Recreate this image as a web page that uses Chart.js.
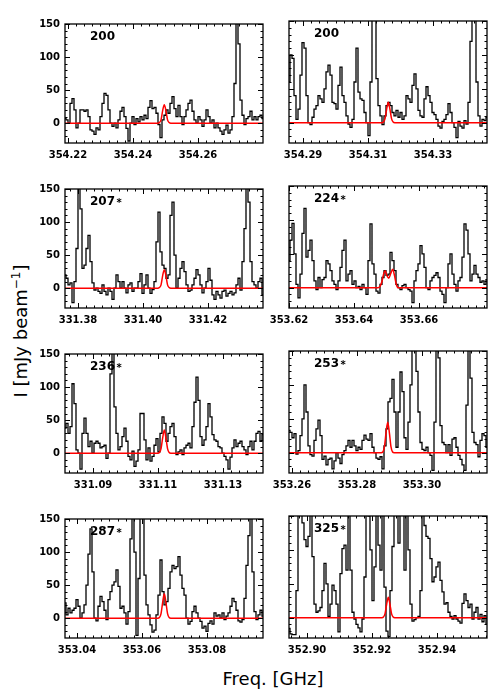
<!DOCTYPE html>
<html>
<head>
<meta charset="utf-8">
<script src="https://cdn.jsdelivr.net/npm/chart.js@4.4.1/dist/chart.umd.min.js"></script>
<style>
  body { margin: 0; background: #fff; }
  #fig { position: relative; width: 500px; height: 700px; overflow: hidden; font-family: "DejaVu Sans", sans-serif; color: #000; }
  #fig canvas { position: absolute; }
  .xtitle { position: absolute; left: 0; width: 546px; top: 668px; text-align: center; font-size: 18px; line-height: 22px; }
  .ytitle { position: absolute; left: 20px; top: 331px; transform: translate(-50%, -50%) rotate(-90deg); font-size: 18px; white-space: nowrap; }
  .ytitle sup { font-size: 12px; }
</style>
</head>
<body>
<div id="fig">
  <div class="xtitle">Freq. [GHz]</div>
  <div class="ytitle">I [mJy beam<sup>−1</sup>]</div>
</div>
<script>
// panel labels, left->right, top->bottom
const labels = ['200', '200', '207*', '224*', '236*', '253*', '287*', '325*'];

// frequency range of each panel (GHz)
const freqStart = [354.21908, 354.28569, 331.37600, 353.62000, 331.08138, 353.25908, 353.03631, 352.89446];
const freqEnd   = [354.28000, 354.34661, 331.43692, 353.68092, 331.14230, 353.32000, 353.09723, 352.95538];

// labelled x ticks
const xTicks = [
  [354.22, 354.24, 354.26],
  [354.29, 354.31, 354.33],
  [331.38, 331.40, 331.42],
  [353.62, 353.64, 353.66],
  [331.09, 331.11, 331.13],
  [353.26, 353.28, 353.30],
  [353.04, 353.06, 353.08],
  [352.90, 352.92, 352.94]
];
const yTicks = [0, 50, 100, 150];

// observed spectra, mJy/beam (100 channels each, edge to edge)
const spec1 = [7, 5, 0, 30, 37, 20, -7, 0, 20, 20,
  18, 20, 10, -10, -12, -17, -7, -10, 10, 30,
  45, 42, 20, 0, -5, 0, -7, 5, 18, 24,
  10, -8, -27, 0, 10, -2, 7, 2, 10, 5,
  12, 7, 24, 34, 22, 24, 15, -2, -22, 5,
  12, 20, 15, 30, 40, 22, 10, 27, 10, -2,
  10, 20, 30, 35, 18, 5, 0, 10, 5, -5,
  5, 20, 10, 0, 5, -7, 0, -7, -12, -17,
  -10, -3, -15, -10, 10, 60, 170, 120, 35, 12,
  -2, 7, 10, 18, 5, 10, 5, 10, 12, 7];
const spec2 = [60, 100, 95, 40, 5, 20, 70, 118, 110, 40,
  0, -3, 8, 20, 25, 40, 35, 30, 50, 75,
  85, 70, 30, 28, 20, 55, 82, 40, 30, 10,
  -2, -7, 5, 60, 110, 45, 35, 33, 15, 0,
  -19, 60, 170, 170, 65, 25, 10, -3, 10, 25,
  30, 25, 15, 10, 18, 8, 15, 5, 10, 40,
  35, 30, 55, 72, 50, 18, 10, 8, 35, 53,
  40, 30, 15, 12, 5, -5, -8, 2, 5, 12,
  28, 15, 0, -7, -22, 2, -5, -8, 3, -2,
  30, 120, 170, 170, 60, 10, -5, 5, 3, 8];
const spec3 = [20, 15, 5, 8, -22, 10, 60, 170, 120, 30,
  35, 60, 80, 40, 8, -3, 0, -5, -8, 5,
  -5, -10, 0, -5, -17, 0, 20, 10, 0, 10,
  0, -7, 5, 8, -5, 0, 0, 10, 22, -8,
  5, 20, 0, -8, -2, 10, 70, 115, 55, 35,
  30, 15, 20, 110, 130, 50, 0, 15, 30, 40,
  25, 5, -5, -3, 5, 15, 28, 20, 5, -7,
  0, 10, 30, 12, -10, -17, -5, -10, -15, -5,
  -3, -12, -8, -5, -10, -7, 5, 15, -3, 40,
  90, 170, 130, 40, 10, 5, 0, 10, 15, -10];
const spec4 = [40, 70, 95, 50, 5, -15, 20, 80, 117, 45,
  55, 70, 40, 10, -3, 15, 0, 12, 15, 40,
  35, 25, 10, 5, -3, 10, 30, 55, 70, 10,
  20, 25, 5, 10, 0, 2, -3, 5, 0, -10,
  40, 94, 35, 20, -5, -8, 5, 15, 25, 18,
  20, 52, 40, 25, 5, 0, -3, 3, 5, 0,
  -3, -5, -22, 10, 25, 35, 62, 50, 30, 0,
  -3, 10, 15, 18, 22, 15, -5, -10, -22, 0,
  35, 50, 20, 5, -5, 10, 15, 45, 94, 85,
  50, 10, 20, 33, 20, 15, 8, 10, 5, 12];
const spec5 = [38, 45, 30, 40, 105, 75, 5, 0, -24, 30,
  53, 30, 10, 18, 0, 15, 18, 15, 8, 10,
  12, -8, 0, 120, 170, 70, 30, 5, 10, 25,
  38, 18, -5, -10, 3, -20, -12, 5, 60, 60,
  20, -10, 8, -12, -5, 12, 22, 2, 30, 55,
  45, 18, 30, 40, 45, 25, -2, 2, 5, -2,
  8, 12, 15, 8, 40, 77, 115, 80, 25, 12,
  20, 40, 75, 55, 28, 20, 18, 10, 8, 0,
  -5, -10, -24, -6, 8, 20, 10, 15, 18, 10,
  5, -2, 10, 18, 5, 18, 30, 33, 18, 28];
const spec6 = [33, 30, 22, 28, -2, 3, 25, 50, 100, 60,
  10, -3, -5, 18, 35, 48, 25, -10, -5, -18,
  -10, -8, -24, -12, 0, -8, -16, -3, 3, 10,
  18, 8, 18, 10, 3, 8, 5, 18, 26, 20,
  18, 28, 8, 0, -8, -10, -6, -24, 10, 35,
  75, 80, 108, 60, 8, 60, 119, 90, 22, 5,
  45, 100, 170, 170, 120, 60, 15, 5, 3, 8,
  0, -4, -26, 45, 170, 140, 40, 15, 12, 0,
  12, -4, 20, 22, 8, -4, -10, -18, -26, 70,
  170, 110, 30, 15, 12, -6, 18, 28, 25, 8];
const spec7 = [23, 5, 15, 8, 12, 15, 28, 18, 0, 8,
  20, 50, 97, 135, 70, 0, -4, 18, 33, 25,
  12, -2, 28, 40, 50, 55, 73, 48, 15, 18,
  8, -9, 10, 120, 170, 100, -26, 60, 170, 170,
  65, 20, 5, -10, -21, -18, 5, 35, 88, 40,
  20, 25, 45, 70, 80, 75, 78, 93, 65, 45,
  35, 0, -9, -5, 10, 18, 8, 0, -5, -15,
  -12, -20, -8, -4, -9, 8, 3, 5, 0, 8,
  -2, 3, 8, 18, 30, 25, 12, -4, -6, -2,
  30, 80, 125, 170, 70, 10, -2, 5, 12, 3];
const spec8 = [-16, -24, -25, -25, 40, 170, 170, 140, 115, 105,
  120, 170, 90, 20, 8, 10, 15, 40, 80, 50,
  2, 20, 48, 40, 20, -21, 65, 102, 107, 70,
  170, 70, 8, -2, -10, -15, -21, -2, 60, 170,
  150, 100, 25, 75, 170, 107, 70, 170, 45, -20,
  -28, 40, 105, 160, 170, 110, 170, 170, 70, 170,
  100, 20, -5, -3, 0, 2, 40, 170, 136, 120,
  117, 87, 53, 60, 75, 82, 55, 38, 20, 22,
  8, 2, -2, 3, -2, -5, -8, 21, 35, 25,
  15, 20, -2, 8, 15, -2, 5, -6, 3, -10];

// model line (red): frequencies and intensities
const red1F = [354.21908, 354.24763, 354.24813, 354.24863, 354.24913, 354.24963, 354.25013, 354.25063, 354.25113, 354.25163, 354.28000];
const red1V = [0, 0, 1, 5, 19, 28, 19, 5, 1, 0, 0];
const red2F = [354.28569, 354.31424, 354.31474, 354.31524, 354.31574, 354.31624, 354.31674, 354.31724, 354.31774, 354.31824, 354.34661];
const red2V = [0, 0, 1, 6, 20, 30, 20, 6, 1, 0, 0];
const red3F = [331.37600, 331.40455, 331.40505, 331.40555, 331.40605, 331.40655, 331.40705, 331.40755, 331.40805, 331.40855, 331.43692];
const red3V = [0, 0, 1, 5, 19, 28, 19, 5, 1, 0, 0];
const red4F = [353.62000, 353.64740, 353.64800, 353.64860, 353.64910, 353.64960, 353.65010, 353.65070, 353.65130, 353.65190, 353.65250, 353.65300, 353.65360, 353.68092];
const red4V = [0, 0, 2, 9, 20, 25, 18, 14, 21, 27, 17, 5, 0, 0];
const red5F = [331.08138, 331.10993, 331.11043, 331.11093, 331.11143, 331.11193, 331.11243, 331.11293, 331.11343, 331.11393, 331.14230];
const red5V = [0, 0, 1, 7, 23, 35, 23, 7, 1, 0, 0];
const red6F = [353.25908, 353.28745, 353.28795, 353.28845, 353.28895, 353.28945, 353.28995, 353.29045, 353.29095, 353.29145, 353.32000];
const red6V = [0, 0, 1, 9, 30, 45, 30, 9, 1, 0, 0];
const red7F = [353.03631, 353.06486, 353.06536, 353.06586, 353.06636, 353.06686, 353.06736, 353.06786, 353.06836, 353.06886, 353.09723];
const red7V = [0, 0, 1, 7, 24, 37, 24, 7, 1, 0, 0];
const red8F = [352.89446, 352.92301, 352.92351, 352.92401, 352.92451, 352.92501, 352.92551, 352.92601, 352.92651, 352.92701, 352.95538];
const red8V = [0, 0, 1, 6, 20, 30, 20, 6, 1, 0, 0];

const spectra = [spec1, spec2, spec3, spec4, spec5, spec6, spec7, spec8];
const redF = [red1F, red2F, red3F, red4F, red5F, red6F, red7F, red8F];
const redV = [red1V, red2V, red3V, red4V, red5V, red6V, red7V, red8V];

// layout
const colLeft = [65, 289];
const rowTop = [21, 186, 351, 516];
const boxW = 198, boxH = 122;
const padL = 45, padT = 8, padR = 8, padB = 25;

// tick list: labelled majors plus minor ticks every `step`
function makeTicks(lo, hi, majors, step) {
  const out = [];
  let k = Math.ceil((lo - majors[0]) / step - 1e-6);
  let v = majors[0] + k * step;
  while (v <= hi + 1e-9) {
    const m = majors.find(mm => Math.abs(mm - v) < step / 10);
    out.push({ value: m !== undefined ? m : v, major: m !== undefined });
    k++;
    v = majors[0] + k * step;
  }
  return out;
}

// box, inward ticks on all sides, panel number
const panelFrame = {
  id: 'panelFrame',
  afterDatasetsDraw(chart, args, opts) {
    const { ctx, chartArea: a, scales: { x, y } } = chart;
    ctx.save();
    ctx.strokeStyle = '#000';
    ctx.lineWidth = 1;
    ctx.beginPath();
    x.ticks.forEach(t => {
      const px = Math.round(x.getPixelForValue(t.value)) + 0.5;
      if (px < a.left || px > a.right) return;
      const len = t.major ? 5 : 2.5;
      ctx.moveTo(px, a.bottom); ctx.lineTo(px, a.bottom - len);
      ctx.moveTo(px, a.top); ctx.lineTo(px, a.top + len);
    });
    y.ticks.forEach(t => {
      const py = Math.round(y.getPixelForValue(t.value)) + 0.5;
      if (py < a.top || py > a.bottom) return;
      const len = t.major ? 5 : 2.5;
      ctx.moveTo(a.left, py); ctx.lineTo(a.left + len, py);
      ctx.moveTo(a.right, py); ctx.lineTo(a.right - len, py);
    });
    ctx.stroke();
    ctx.lineWidth = 1.3;
    ctx.strokeRect(a.left, a.top, a.right - a.left, a.bottom - a.top);

    const txt = opts.label || '';
    const num = txt.replace('*', '');
    ctx.fillStyle = '#000';
    ctx.textBaseline = 'alphabetic';
    ctx.textAlign = 'left';
    ctx.font = 'bold 12px "DejaVu Sans"';
    const tx = a.left + 25, ty = a.top + 15.5;
    ctx.fillText(num, tx, ty);
    if (txt.endsWith('*')) {
      const w = ctx.measureText(num).width;
      ctx.font = 'bold 10px "DejaVu Sans"';
      ctx.fillText('*', tx + w + 1.5, ty + 1.5);
    }
    ctx.restore();
  }
};

const tickFont = { family: 'DejaVu Sans', size: 10, weight: 'bold' };
const fig = document.getElementById('fig');

spectra.forEach((vals, p) => {
  const col = p % 2, row = Math.floor(p / 2);
  const canvas = document.createElement('canvas');
  canvas.width = padL + boxW + padR;
  canvas.height = padT + boxH + padB;
  canvas.style.left = (colLeft[col] - padL) + 'px';
  canvas.style.top = (rowTop[row] - padT) + 'px';
  fig.appendChild(canvas);

  const lo = freqStart[p], hi = freqEnd[p];
  const n = vals.length;
  const specPts = vals.map((v, i) => ({ x: lo + i * (hi - lo) / (n - 1), y: v }));
  const modelPts = redF[p].map((f, i) => ({ x: f, y: redV[p][i] }));

  new Chart(canvas, {
    type: 'line',
    data: {
      datasets: [
        { data: modelPts, borderColor: '#ff0000', borderWidth: 1.5, pointRadius: 0, cubicInterpolationMode: 'monotone' },
        { data: specPts, borderColor: '#000000', borderWidth: 1.3, pointRadius: 0, stepped: 'middle' }
      ]
    },
    options: {
      responsive: false,
      animation: false,
      devicePixelRatio: 1,
      events: [],
      layout: { padding: { top: padT, right: padR, left: 0, bottom: 0 } },
      plugins: {
        legend: { display: false },
        tooltip: { enabled: false },
        panelFrame: { label: labels[p] }
      },
      scales: {
        x: {
          type: 'linear', min: lo, max: hi,
          grid: { display: false, drawTicks: false },
          border: { display: false },
          afterBuildTicks: s => { s.ticks = makeTicks(lo, hi, xTicks[p], 0.0025); },
          afterFit: s => { s.height = padB; },
          ticks: {
            autoSkip: false, maxRotation: 0, padding: 6, color: '#000', font: tickFont,
            callback: (v, i, t) => t[i].major ? v.toFixed(2) : ''
          }
        },
        y: {
          type: 'linear', min: -30, max: 150,
          grid: { display: false, drawTicks: false },
          border: { display: false },
          afterBuildTicks: s => { s.ticks = makeTicks(-30, 150, yTicks, 10); },
          afterFit: s => { s.width = padL; },
          ticks: {
            display: col === 0, autoSkip: false, padding: 5, color: '#000', font: tickFont,
            callback: (v, i, t) => t[i].major ? String(v) : ''
          }
        }
      }
    },
    plugins: [panelFrame]
  });
});
</script>
</body>
</html>
